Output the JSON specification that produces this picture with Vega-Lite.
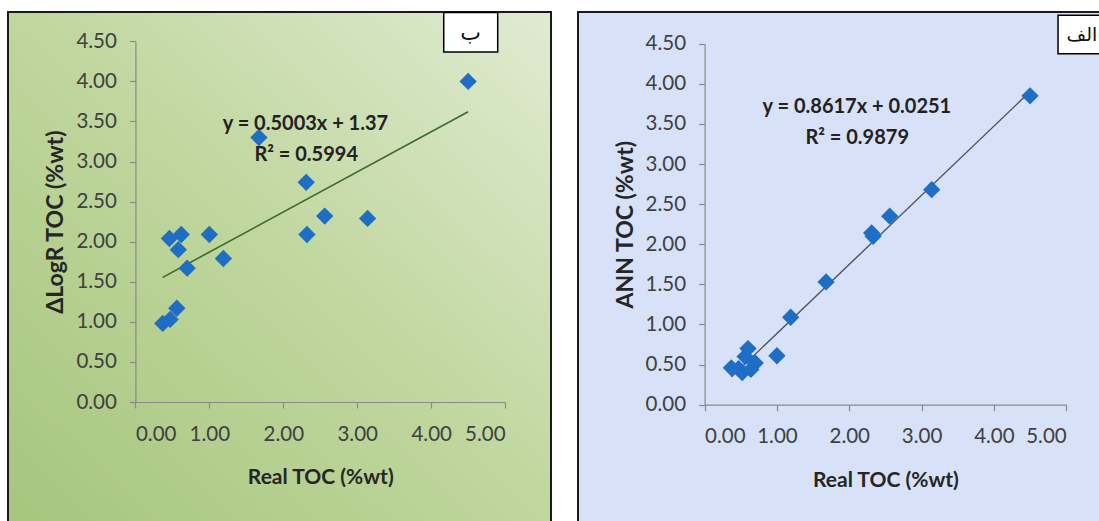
{
  "$schema": "https://vega.github.io/schema/vega-lite/v6.json",
  "padding": {"left": 7, "top": 10, "right": 0, "bottom": 0},
  "spacing": 25,
  "config": {
    "font": "Lato",
    "axis": {
      "grid": false,
      "domainColor": "#8a8a8a",
      "tickColor": "#8a8a8a",
      "domainWidth": 1.2,
      "tickWidth": 1.2,
      "tickSize": 6,
      "labelFont": "Lato",
      "labelFontSize": 20.5,
      "labelColor": "#404040",
      "titleFont": "Lato",
      "titleFontWeight": "bold",
      "titleColor": "#262626",
      "format": ".2f"
    }
  },
  "datasets": {
    "left": [
      {"real": 0.37, "toc": 0.98}, {"real": 0.47, "toc": 1.03}, {"real": 0.56, "toc": 1.17},
      {"real": 0.46, "toc": 2.04}, {"real": 0.62, "toc": 2.09}, {"real": 0.58, "toc": 1.90},
      {"real": 0.70, "toc": 1.67}, {"real": 1.00, "toc": 2.09}, {"real": 1.19, "toc": 1.79},
      {"real": 1.67, "toc": 3.30}, {"real": 2.31, "toc": 2.74}, {"real": 2.32, "toc": 2.09},
      {"real": 2.56, "toc": 2.32}, {"real": 3.14, "toc": 2.29}, {"real": 4.50, "toc": 4.00}
    ],
    "right": [
      {"real": 0.37, "toc": 0.46}, {"real": 0.47, "toc": 0.45}, {"real": 0.52, "toc": 0.40},
      {"real": 0.56, "toc": 0.60}, {"real": 0.60, "toc": 0.70}, {"real": 0.64, "toc": 0.44},
      {"real": 0.70, "toc": 0.52}, {"real": 1.00, "toc": 0.61}, {"real": 1.19, "toc": 1.09},
      {"real": 1.68, "toc": 1.53}, {"real": 2.31, "toc": 2.14}, {"real": 2.33, "toc": 2.10},
      {"real": 2.56, "toc": 2.35}, {"real": 3.14, "toc": 2.68}, {"real": 4.50, "toc": 3.85}
    ],
    "leftTrend": [{"real": 0.37, "toc": 1.555}, {"real": 4.50, "toc": 3.621}],
    "rightTrend": [{"real": 0.37, "toc": 0.344}, {"real": 4.50, "toc": 3.903}]
  },
  "hconcat": [
    {
      "width": 543,
      "height": 510,
      "view": {
        "fill": {"gradient": "linear", "x1": 0, "y1": 1, "x2": 1, "y2": 0,
          "stops": [{"offset": 0, "color": "#a6c57d"}, {"offset": 0.5, "color": "#bfd69d"}, {"offset": 1, "color": "#e0ebd2"}]},
        "stroke": "#1a1a1a",
        "strokeWidth": 2
      },
      "encoding": {
        "x": {"type": "quantitative", "scale": {"domain": [0, 5], "range": [127.4, 497.1], "nice": false, "zero": false},
          "axis": {"title": "Real TOC (%wt)", "values": [0, 1, 2, 3, 4, 5], "offset": -120, "labelPadding": 16, "titleFontSize": 21, "titlePadding": 22}},
        "y": {"type": "quantitative", "scale": {"domain": [0, 4.5], "range": [390, 29.3], "nice": false, "zero": false},
          "axis": {"title": "ΔLogR TOC (%wt)", "values": [0, 0.5, 1, 1.5, 2, 2.5, 3, 3.5, 4, 4.5], "offset": -127.4, "labelPadding": 13, "titleFontSize": 23, "titlePadding": 8}}
      },
      "layer": [
        {
          "data": {"name": "leftTrend"},
          "mark": {"type": "line", "color": "#3d6a2f", "strokeWidth": 1.6},
          "encoding": {"x": {"field": "real", "type": "quantitative"}, "y": {"field": "toc", "type": "quantitative"}}
        },
        {
          "data": {"name": "left"},
          "mark": {"type": "point", "shape": "diamond", "filled": true, "size": 300, "color": "#1f6ec6", "opacity": 1},
          "encoding": {"x": {"field": "real", "type": "quantitative"}, "y": {"field": "toc", "type": "quantitative"}}
        },
        {
          "data": {"values": [{}]},
          "mark": {"type": "rect", "fill": "white", "stroke": "black", "strokeWidth": 1.5},
          "encoding": {"x": {"datum": 4.17}, "x2": {"datum": 4.90}, "y": {"datum": 4.86}, "y2": {"datum": 4.366}}
        },
        {
          "data": {"values": [{"t": "ب"}]},
          "mark": {"type": "text", "font": "DejaVu Sans", "fontSize": 22, "color": "#111", "align": "center", "baseline": "middle"},
          "encoding": {"x": {"datum": 4.535}, "y": {"datum": 4.6}, "text": {"field": "t"}}
        },
        {
          "data": {"values": [{"t": "y = 0.5003x + 1.37", "px": 2.30, "py": 3.47}, {"t": "R² = 0.5994", "px": 2.31, "py": 3.08}]},
          "mark": {"type": "text", "font": "Lato", "fontWeight": "bold", "fontSize": 20, "color": "#222", "align": "center", "baseline": "middle"},
          "encoding": {"x": {"field": "px", "type": "quantitative"}, "y": {"field": "py", "type": "quantitative"}, "text": {"field": "t"}}
        }
      ]
    },
    {
      "width": 523,
      "height": 510,
      "view": {"fill": "#d7e1f7", "stroke": "#1a1a1a", "strokeWidth": 2},
      "encoding": {
        "x": {"type": "quantitative", "scale": {"domain": [0, 5], "range": [126.6, 488.2], "nice": false, "zero": false},
          "axis": {"title": "Real TOC (%wt)", "values": [0, 1, 2, 3, 4, 5], "offset": -117.3, "labelPadding": 16, "titleFontSize": 21, "titlePadding": 22}},
        "y": {"type": "quantitative", "scale": {"domain": [0, 4.5], "range": [392.7, 31.7], "nice": false, "zero": false},
          "axis": {"title": "ANN TOC (%wt)", "values": [0, 0.5, 1, 1.5, 2, 2.5, 3, 3.5, 4, 4.5], "offset": -126.6, "labelPadding": 13, "titleFontSize": 23, "titlePadding": 8}}
      },
      "layer": [
        {
          "data": {"name": "rightTrend"},
          "mark": {"type": "line", "color": "#4e5464", "strokeWidth": 1.4},
          "encoding": {"x": {"field": "real", "type": "quantitative"}, "y": {"field": "toc", "type": "quantitative"}}
        },
        {
          "data": {"name": "right"},
          "mark": {"type": "point", "shape": "diamond", "filled": true, "size": 300, "color": "#1f6ec6", "opacity": 1},
          "encoding": {"x": {"field": "real", "type": "quantitative"}, "y": {"field": "toc", "type": "quantitative"}}
        },
        {
          "data": {"values": [{}]},
          "mark": {"type": "rect", "fill": "white", "stroke": "black", "strokeWidth": 1.5},
          "encoding": {"x": {"datum": 4.887}, "x2": {"datum": 5.47}, "y": {"datum": 4.854}, "y2": {"datum": 4.375}}
        },
        {
          "data": {"values": [{"t": "الف"}]},
          "mark": {"type": "text", "font": "DejaVu Sans", "fontSize": 19, "color": "#111", "align": "right", "baseline": "middle"},
          "encoding": {"x": {"datum": 5.43}, "y": {"datum": 4.61}, "text": {"field": "t"}}
        },
        {
          "data": {"values": [{"t": "y = 0.8617x + 0.0251", "px": 2.106, "py": 3.71}, {"t": "R² = 0.9879", "px": 2.11, "py": 3.325}]},
          "mark": {"type": "text", "font": "Lato", "fontWeight": "bold", "fontSize": 20, "color": "#222", "align": "center", "baseline": "middle"},
          "encoding": {"x": {"field": "px", "type": "quantitative"}, "y": {"field": "py", "type": "quantitative"}, "text": {"field": "t"}}
        }
      ]
    }
  ]
}
